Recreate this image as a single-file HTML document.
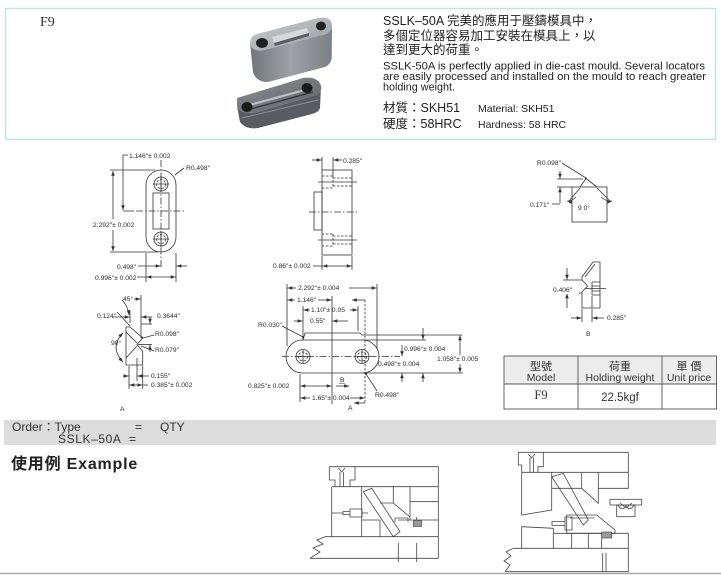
<!DOCTYPE html>
<html><head><meta charset="utf-8">
<style>
html,body{margin:0;padding:0;background:#fff;}
body{width:721px;height:575px;overflow:hidden;}
svg{display:block;}
.ln{stroke:#333;stroke-width:0.8;fill:none;}
.cl{stroke-dasharray:7,2,1.5,2;}
.ds{stroke-dasharray:2.5,1.5;}
.t{font-family:"Liberation Sans",Arial,sans-serif;font-size:6.7px;fill:#2a2a2a;}
.m{stroke:#444;stroke-width:0.8;fill:none;}
</style></head>
<body>
<svg width="721" height="575" viewBox="0 0 721 575" xmlns="http://www.w3.org/2000/svg">
<defs>
<marker id="ar" viewBox="0 0 8 6" refX="8" refY="3" markerWidth="5" markerHeight="3.6" markerUnits="userSpaceOnUse" orient="auto-start-reverse"><path d="M0,0L8,3L0,6z" fill="#333"/></marker>
<linearGradient id="g1" x1="0" y1="0" x2="1" y2="1"><stop offset="0" stop-color="#c9cccf"/><stop offset="1" stop-color="#9a9ea2"/></linearGradient>
<linearGradient id="g2" x1="0" y1="0" x2="1" y2="0"><stop offset="0" stop-color="#6f7479"/><stop offset="0.5" stop-color="#9ea2a6"/><stop offset="1" stop-color="#7b8085"/></linearGradient>
<linearGradient id="g3" x1="0" y1="0" x2="1" y2="1"><stop offset="0" stop-color="#8d9196"/><stop offset="1" stop-color="#5d6166"/></linearGradient>
</defs>

<!-- top box -->
<rect x="5.5" y="8.5" width="710" height="131" fill="#fff" stroke="#bfe2ee" stroke-width="1.5"/>
<text x="40" y="26" style="font-family:'Liberation Serif',serif;font-size:14px;fill:#333">F9</text>

<!-- product photo top block -->
<path d="M250,43 Q251,52 264,50 L326,34 Q331,32 332,26 L331.7,58 Q331,64 325,67 L268,82 Q256,82 253,72 Z" fill="url(#g2)"/>
<path d="M250,43 Q250,36 257,34 L318,18 Q332,16 332,26 Q331,32 326,34 L264,50 Q251,52 250,43 Z" fill="url(#g1)"/>
<ellipse cx="262" cy="43" rx="6" ry="5" fill="#222"/>
<ellipse cx="321" cy="26" rx="5" ry="4.5" fill="#222"/>
<path d="M272,37 L307,28 L309,33 L274,43 Z" fill="#d6d8da"/>
<path d="M274,43 L309,33 L309,36 L275,46 Z" fill="#5a5e62"/>
<!-- bottom block -->
<path d="M237,106 Q240,115 257,112 L316,95 Q322,93 321,86 L320,108 Q319,112 312,114 L258,128 Q246,130 240,122 Z" fill="#595d62"/>
<path d="M237,98 L303,78 Q318,76 321,86 Q322,93 316,95 L257,112 Q240,115 237,106 Z" fill="url(#g3)"/>
<path d="M246,106 L312,88" stroke="#c0c3c6" stroke-width="2"/>
<path d="M247,110 L313,92" stroke="#333" stroke-width="1.2"/>
<path d="M242,118 L318,100" stroke="#8a8e92" stroke-width="1"/>
<ellipse cx="247" cy="107" rx="5.5" ry="5" fill="#1a1a1a"/>
<ellipse cx="307" cy="88" rx="5.5" ry="5" fill="#1a1a1a"/>

<!-- description text -->
<g style="font-family:'Liberation Sans','Noto Sans CJK TC',sans-serif;fill:#222">
<text x="383" y="25" font-size="12.5">SSLK–50A 完美的應用于壓鑄模具中，</text>
<text x="383" y="40" font-size="12.5">多個定位器容易加工安裝在模具上，以</text>
<text x="383" y="54" font-size="12.5">達到更大的荷重。</text>
<text x="383" y="69.5" font-size="11" textLength="322" lengthAdjust="spacingAndGlyphs">SSLK-50A is perfectly applied in die-cast mould. Several locators</text>
<text x="383" y="80" font-size="11" textLength="323" lengthAdjust="spacingAndGlyphs">are easily processed and installed on the mould to reach greater</text>
<text x="383" y="90.5" font-size="11" textLength="72" lengthAdjust="spacingAndGlyphs">holding weight.</text>
<text x="383" y="112" font-size="12.5">材質：SKH51</text>
<text x="383" y="128" font-size="12.5">硬度：58HRC</text>
<text x="478" y="112" font-size="10.5">Material: SKH51</text>
<text x="478" y="128" font-size="10.5">Hardness: 58 HRC</text>
</g>

<!-- Drawing 1: front view -->
<g class="ln">
<rect x="146" y="170" width="30" height="82" rx="15"/>
<circle cx="161" cy="184" r="7"/><circle cx="161" cy="184" r="4.5" class="ds"/>
<circle cx="161" cy="239" r="7"/><circle cx="161" cy="239" r="4.5" class="ds"/>
<path d="M153,184H169M161,176V192M153,239H169M161,231V247"/>
<rect x="153" y="193" width="16" height="36"/>
<line x1="161" y1="160" x2="161" y2="268" class="cl"/>
<line x1="136" y1="211" x2="186" y2="211" class="cl"/>
<path d="M110,170H155M110,252H158"/>
<line x1="113" y1="171" x2="113" y2="219" marker-start="url(#ar)"/>
<line x1="113" y1="230" x2="113" y2="251" marker-end="url(#ar)"/>
<path d="M123,155H128"/>
<line x1="123" y1="155" x2="123" y2="210" marker-end="url(#ar)"/>
<path d="M123,211H134"/>
<path d="M175,175L184,168"/>
<path d="M146,253V282M176,253V282"/>
<line x1="138" y1="266" x2="160.5" y2="266" marker-end="url(#ar)"/>
<line x1="187" y1="266" x2="176.5" y2="266" marker-end="url(#ar)"/>
<line x1="146.5" y1="277" x2="175.5" y2="277" marker-start="url(#ar)" marker-end="url(#ar)"/>
<path d="M137,277H146"/>
</g>
<text class="t" x="129" y="158">1.146"± 0.002</text>
<text class="t" x="186" y="170">R0.498"</text>
<text class="t" x="93" y="227">2.292"± 0.002</text>
<text class="t" x="117" y="269">0.498"</text>
<text class="t" x="95" y="280">0.996"± 0.002</text>

<!-- Drawing A -->
<g class="ln">
<path d="M126,327H130L142.7,338L137,344.5L142.7,351.5V365H126Z"/>
<path d="M126,332L137,343M137,346L126,358"/>
<path d="M130,326L117,312"/>
<path d="M141,295V338"/>
<path d="M122,300Q128,306 129,315" marker-end="url(#ar)"/>
<line x1="134" y1="299" x2="140.5" y2="299" marker-end="url(#ar)"/>
<line x1="112" y1="317" x2="129.5" y2="317" marker-end="url(#ar)"/>
<line x1="152" y1="317" x2="141.5" y2="317" marker-end="url(#ar)"/>
<path d="M130,311V323"/>
<path d="M141,324H152"/>
<line x1="150" y1="317" x2="150" y2="323.5" marker-end="url(#ar)"/>
<line x1="150" y1="352" x2="150" y2="345" marker-end="url(#ar)"/>
<path d="M138,344.5H152"/>
<path d="M143,338L154,335M141,346L154,351"/>
<path d="M123,333Q109,347 123,362" marker-start="url(#ar)" marker-end="url(#ar)"/>
<path d="M129,366V389M137,358V381M142.7,366V389"/>
<line x1="123" y1="376" x2="128.5" y2="376" marker-end="url(#ar)"/>
<line x1="149" y1="376" x2="137.5" y2="376" marker-end="url(#ar)"/>
<line x1="129.5" y1="385" x2="142.2" y2="385" marker-start="url(#ar)" marker-end="url(#ar)"/>
<path d="M142.7,385H148"/>
</g>
<circle cx="142" cy="337.5" r="1" fill="#333"/>
<text class="t" x="123" y="301">45°</text>
<text class="t" x="97" y="318">0.124"</text>
<text class="t" x="157" y="318">0.3644"</text>
<text class="t" x="155" y="336">R0.098"</text>
<text class="t" x="155" y="352">R0.079"</text>
<text class="t" x="111" y="345">90°</text>
<text class="t" x="151" y="378">0.155"</text>
<text class="t" x="151" y="387">0.385"± 0.002</text>
<text class="t" x="120" y="411" font-size="7.5">A</text>

<!-- Drawing 2: side view -->
<g class="ln">
<rect x="322" y="170" width="30" height="85"/>
<rect x="314" y="192" width="8" height="38"/>
<path d="M322,176H333M333,178H352M333,186H352M322,188H333M333,176V188" class="ds"/>
<path d="M318,182H357"/>
<path d="M322,234H333M333,236H352M333,244H352M322,246H333M333,234V246" class="ds"/>
<path d="M318,240H357"/>
<line x1="309" y1="212" x2="358" y2="212" class="cl"/>
<path d="M322,157V170M333,157V176"/>
<line x1="312" y1="160" x2="321.5" y2="160" marker-end="url(#ar)"/>
<line x1="342" y1="160" x2="333.5" y2="160" marker-end="url(#ar)"/>
<path d="M322,256V270M352,256V270"/>
<line x1="322.5" y1="266" x2="351.5" y2="266" marker-start="url(#ar)" marker-end="url(#ar)"/>
<path d="M313,266H322"/>
</g>
<text class="t" x="343" y="163">0.285"</text>
<text class="t" x="273" y="268">0.86"± 0.002</text>

<!-- Drawing 3: top view -->
<g class="ln">
<rect x="286" y="340" width="93" height="33" rx="16.5"/>
<path d="M303,340L305,333H360L362,335H462"/>
<path d="M362,340H426M362,373H463"/>
<circle cx="303" cy="356.5" r="7"/><circle cx="303" cy="356.5" r="4.5" class="ds"/>
<circle cx="362" cy="356.5" r="7"/><circle cx="362" cy="356.5" r="4.5" class="ds"/>
<path d="M296,356.5H310M303,350V363M355,356.5H369M362,350V363"/>
<line x1="282" y1="356.5" x2="400" y2="356.5" class="cl"/>
<path d="M287,284V346M377,284V349M303,306V340M358,306V331"/>
<path d="M332,296V404"/>
<line x1="365" y1="300" x2="365" y2="404" class="ds"/>
<line x1="365" y1="300" x2="352" y2="300" marker-end="url(#ar)"/>
<line x1="365" y1="403" x2="354" y2="403" marker-end="url(#ar)"/>
<line x1="287.5" y1="288" x2="296" y2="288" marker-start="url(#ar)"/>
<line x1="349" y1="288" x2="376.5" y2="288" marker-end="url(#ar)"/>
<line x1="287.5" y1="300" x2="295" y2="300" marker-start="url(#ar)"/>
<line x1="318" y1="300" x2="331.5" y2="300" marker-end="url(#ar)"/>
<line x1="303.5" y1="310" x2="310" y2="310" marker-start="url(#ar)"/>
<line x1="350" y1="310" x2="357.5" y2="310" marker-end="url(#ar)"/>
<line x1="294" y1="321" x2="302.5" y2="321" marker-end="url(#ar)"/>
<line x1="348" y1="321" x2="332.5" y2="321" marker-end="url(#ar)"/>
<line x1="460" y1="335.5" x2="460" y2="355" marker-start="url(#ar)"/>
<line x1="460" y1="364" x2="460" y2="372.5" marker-end="url(#ar)"/>
<line x1="423" y1="328" x2="423" y2="339.5" marker-end="url(#ar)"/>
<line x1="423" y1="382" x2="423" y2="373.5" marker-end="url(#ar)"/>
<line x1="402" y1="345" x2="402" y2="356" marker-end="url(#ar)"/>
<line x1="402" y1="382" x2="402" y2="373.5" marker-end="url(#ar)"/>
<path d="M282,326L303,337"/>
<path d="M366,374L377,391"/>
<path d="M300,374V402"/>
<line x1="300.5" y1="386" x2="331.5" y2="386" marker-start="url(#ar)" marker-end="url(#ar)"/>
<line x1="336" y1="386" x2="349" y2="386" marker-end="url(#ar)"/>
<line x1="300.5" y1="398" x2="310" y2="398" marker-start="url(#ar)"/>
<line x1="350" y1="398" x2="364.5" y2="398" marker-end="url(#ar)"/>
</g>
<circle cx="366" cy="374" r="1" fill="#333"/>
<circle cx="303" cy="337" r="1" fill="#333"/>
<text class="t" x="298" y="290">2.292"± 0.004</text>
<text class="t" x="297" y="302">1.146"</text>
<text class="t" x="311" y="312">1.10"± 0.05</text>
<text class="t" x="310" y="323">0.55"</text>
<text class="t" x="258" y="327">R0.030"</text>
<text class="t" x="404" y="351">0.996"± 0.004</text>
<text class="t" x="378" y="366">0.498"± 0.004</text>
<rect x="436" y="355" width="48" height="8" fill="#fff"/>
<text class="t" x="437" y="361">1.058"± 0.005</text>
<text class="t" x="248" y="388">0.825"± 0.002</text>
<text class="t" x="340" y="382">B</text>
<path d="M339,383.5H345" stroke="#333" stroke-width="0.5"/>
<text class="t" x="312" y="400">1.65"± 0.004</text>
<text class="t" x="375" y="397">R0.498"</text>
<text class="t" x="348" y="410">A</text>

<!-- Drawing 4 -->
<g class="ln">
<rect x="572" y="187" width="35" height="35"/>
<path d="M580,187L586,178.5L597,187"/>
<path d="M562,163L586,178"/>
<path d="M557,179H583"/>
<line x1="560" y1="171" x2="560" y2="178.5" marker-end="url(#ar)"/>
<path d="M557,187H572"/>
<line x1="560" y1="203" x2="560" y2="187.5" marker-end="url(#ar)"/>
<path d="M552,204H560"/>
<path d="M580,188L569,201M597,188L610,201"/>
<path d="M576,197Q571,202 567,201" marker-end="url(#ar)"/>
<path d="M601,197Q607,202 612,201" marker-end="url(#ar)"/>
</g>
<circle cx="586" cy="178.5" r="1" fill="#333"/>
<text class="t" x="537" y="165">R0.098"</text>
<text class="t" x="530" y="207">0.171"</text>
<text class="t" x="578" y="210">9 0°</text>

<!-- Drawing 5 (B) -->
<g class="ln">
<path d="M582,277L593,262H600V308H582V292L587.5,286L582,280Z"/>
<path d="M585,277L595,264"/>
<path d="M592,282H600M592,286H600M592,291H600M592,295H600M592,282V295M592,296V308"/>
<path d="M585,288.5H606"/>
<path d="M563,280H582M563,293H582"/>
<line x1="567" y1="268" x2="567" y2="279.5" marker-end="url(#ar)"/>
<line x1="567" y1="308" x2="567" y2="293.5" marker-end="url(#ar)"/>
<path d="M582,309V322M592,309V322"/>
<line x1="571" y1="318" x2="581.5" y2="318" marker-end="url(#ar)"/>
<line x1="604" y1="318" x2="592.5" y2="318" marker-end="url(#ar)"/>
</g>
<rect x="553" y="286" width="26" height="8" fill="#fff"/>
<text class="t" x="553" y="292">0.406"</text>
<text class="t" x="607" y="320">0.285"</text>
<text class="t" x="586" y="336" font-size="7.5">B</text>

<!-- Table -->
<rect x="504" y="356" width="212.5" height="28" fill="#ececec"/>
<g stroke="#555" stroke-width="0.9" fill="none">
<rect x="504" y="356" width="212.5" height="53"/>
<path d="M504,384H716.5M578,356V409M662,356V409"/>
</g>
<g style="font-family:'Liberation Sans','Noto Sans CJK TC',sans-serif;fill:#333" text-anchor="middle">
<text x="541" y="370" font-size="11">型號</text>
<text x="541" y="381" font-size="10.5">Model</text>
<text x="620" y="370" font-size="11">荷重</text>
<text x="620" y="381" font-size="10.5">Holding weight</text>
<text x="689" y="370" font-size="11">單 價</text>
<text x="689" y="381" font-size="10.5">Unit price</text>
<text x="541" y="399" font-size="12.5" style="font-family:'Liberation Serif',serif">F9</text>
<text x="620" y="401" font-size="11.5">22.5kgf</text>
</g>

<!-- Order bar -->
<rect x="4" y="420" width="712" height="25" fill="#dcdcdc"/>
<g style="font-family:'Liberation Sans','Noto Sans CJK TC',sans-serif;font-size:12px;fill:#333">
<text x="12" y="431">Order：Type</text>
<text x="135" y="431">=</text>
<text x="160" y="431">QTY</text>
<text x="58" y="443" letter-spacing="0.6">SSLK–50A</text>
<text x="129" y="443">=</text>
</g>
<text x="11" y="469" style="font-family:'Liberation Sans','Noto Sans CJK TC',sans-serif;font-size:16px;font-weight:bold;fill:#222;letter-spacing:0.8px">使用例 Example</text>

<!-- Mold 1 -->
<g class="m">
<path d="M329.3,466.7H438.3V486.7"/>
<path d="M329.3,466.7V480H335V486.7"/>
<path d="M355,466.7V480H350V486.7"/>
<path d="M338.5,468L341.7,472L345,468M340,472V486.7M343.4,472V486.7"/>
<path d="M332,486.7H438.3"/>
<path d="M331.7,486.7V536.7M438.3,486.7V558.3"/>
<path d="M361.7,486.7V536.7"/>
<path d="M393.3,486.7V503M410,486.7V520"/>
<path d="M410,501.7H438.3"/>
<path d="M380,503H393.3L410,517"/>
<path d="M331.7,513H343M368,513H361.7"/>
<path d="M361.7,520H380V536.7"/>
<path d="M398,520H438.3"/>
<path d="M363.3,491.7L371.7,488.3L400,531.7L393.3,536.7Z"/>
<path d="M395,522V518H408V522"/>
<path d="M350,509H362V517H350ZM343,511.5H350V514.5H343Z"/>
<path d="M325,536.7H438.3"/>
<path d="M310,558.3H438.3"/>
<path d="M325,536.7L317,540L323,544L313,548L320,552L310,558.3"/>
<path d="M398.3,543V562M416.7,543V562"/>
<path d="M416.7,517V520"/>
</g>
<rect x="413.3" y="520.5" width="8.3" height="6" fill="#999" stroke="#444" stroke-width="0.6"/>

<!-- Mold 2 -->
<g class="m">
<path d="M518.3,452.3H628.3V472.3"/>
<path d="M518.3,452.3V465H521.7V472.3"/>
<path d="M543.3,452.3V466.7H538V472.3"/>
<path d="M528.5,454L531.7,458L535,454M530,458V472.3M533.4,458V472.3"/>
<path d="M521.7,472.3H628.3"/>
<path d="M521.7,472.3V515L551.7,510V472.3"/>
<path d="M551.7,488.3H581.7V472.3M581.7,488.3L598.3,503.3V472.3"/>
<path d="M598.3,488.3H628.3V472.3"/>
<path d="M551.7,476.7L563.3,473.3L588.3,520L583.3,525Z"/>
<path d="M566.7,515H596.7L615,530V533.3H566.7Z"/>
<path d="M570,518H594"/>
<path d="M565,517H572V530H565ZM552,521.5H565V525.5H552Z"/>
<path d="M521.7,526.7L553.3,528.3V548.3M521.7,526.7V548.3"/>
<path d="M553.3,533.3H628.3V572"/>
<path d="M571.7,533.3V548.3M588.3,533.3V548.3M601.7,533.3V548.3"/>
<path d="M513.3,548.3H628.3"/>
<path d="M505,571.7H628.3"/>
<path d="M513.3,548.3L506,552L511,556L504,561L510,565L505,571.7"/>
<path d="M602.7,553V572M606,553V572"/>
<rect x="610" y="499.3" width="31.7" height="5.7"/>
<rect x="616.7" y="505" width="18.3" height="11.7"/>
<path d="M618,505Q622,512 626,506Q630,512 634,505M620,503L626,508L632,503"/>
</g>
<rect x="601.7" y="532" width="10" height="6" fill="#999" stroke="#444" stroke-width="0.6"/>

<!-- bottom line -->
<line x1="0" y1="573.5" x2="721" y2="573.5" stroke="#a8a8a8" stroke-width="1.5"/>
</svg>
</body></html>
